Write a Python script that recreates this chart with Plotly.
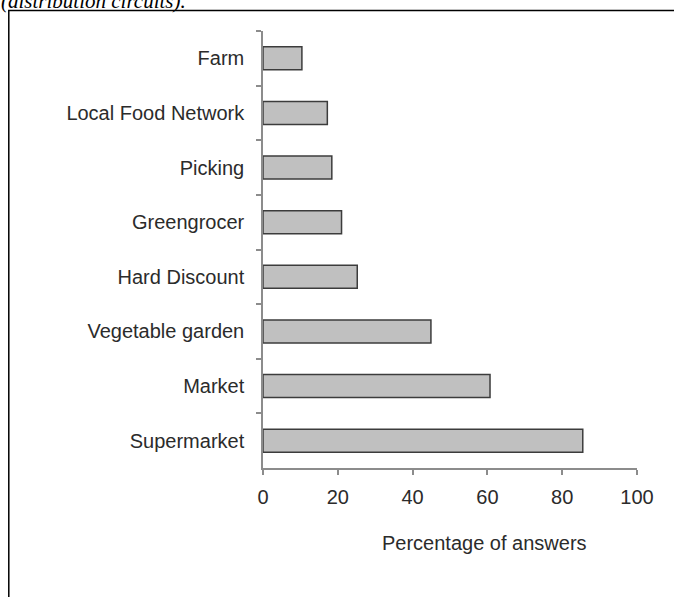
import plotly.graph_objects as go

categories = ["Farm", "Local Food Network", "Picking", "Greengrocer",
              "Hard Discount", "Vegetable garden", "Market", "Supermarket"]
values = [10.4, 17.2, 18.4, 21.0, 25.2, 44.9, 60.7, 85.5]
x_ticks = [0, 20, 40, 60, 80, 100]

W, H = 674, 597
L, R, T, B = 263, 636.7, 31, 468

def px(xp):
    return (xp - L) / (R - L)

def py(yp):
    return (B - yp) / (B - T)

font_family = "Liberation Sans, Arial, sans-serif"
txt_color = "#2b2b2b"
axis_color = "#8c8c8c"

fig = go.Figure()
fig.add_trace(go.Bar(
    x=values, y=categories, orientation="h",
    marker=dict(color="#c0c0c0", line=dict(color="#3c3c3c", width=1.5)),
    hoverinfo="skip",
))

fig.update_layout(
    width=W, height=H,
    margin=dict(l=L, r=W - R, t=T, b=H - B, pad=0),
    paper_bgcolor="white", plot_bgcolor="white",
    showlegend=False, bargap=0.58,
    font=dict(family=font_family, size=20, color=txt_color),
    xaxis=dict(
        range=[0, 100], tickvals=x_ticks, ticktext=[str(v) for v in x_ticks],
        showgrid=False, zeroline=False, showline=True, linecolor=axis_color, linewidth=1.5,
        ticks="outside", ticklen=5, tickcolor=axis_color, tickwidth=1.5,
        tickfont=dict(family=font_family, size=20, color=txt_color),
        ticklabelstandoff=5, fixedrange=True,
    ),
    yaxis=dict(
        categoryorder="array", categoryarray=categories, autorange="reversed",
        showgrid=False, zeroline=False, showline=True, linecolor=axis_color, linewidth=1.5,
        ticks="outside", ticklen=5, tickcolor=axis_color, tickwidth=1.5, tickson="boundaries",
        tickfont=dict(family=font_family, size=20, color=txt_color),
        ticklabelstandoff=13, fixedrange=True,
    ),
    shapes=[dict(
        type="rect", xref="paper", yref="paper",
        x0=px(9), x1=px(690), y0=py(10.5), y1=py(620),
        line=dict(color="black", width=1.5), fillcolor="rgba(0,0,0,0)", layer="above",
    )],
    annotations=[
        dict(text="Percentage of answers", xref="paper", yref="paper",
             x=px(484), y=py(543), xanchor="center", yanchor="middle",
             showarrow=False, font=dict(family=font_family, size=20, color=txt_color)),
        dict(text="<i>(distribution circuits).</i>", xref="paper", yref="paper",
             x=px(-1), y=py(1), xanchor="left", yanchor="middle",
             showarrow=False, font=dict(family="Liberation Serif, Times New Roman, serif",
                                        size=21, color="black")),
    ],
)

fig.write_html("out.html", config={"displayModeBar": False},
               post_script="document.body.style.margin='0';document.body.style.overflow='hidden';")
